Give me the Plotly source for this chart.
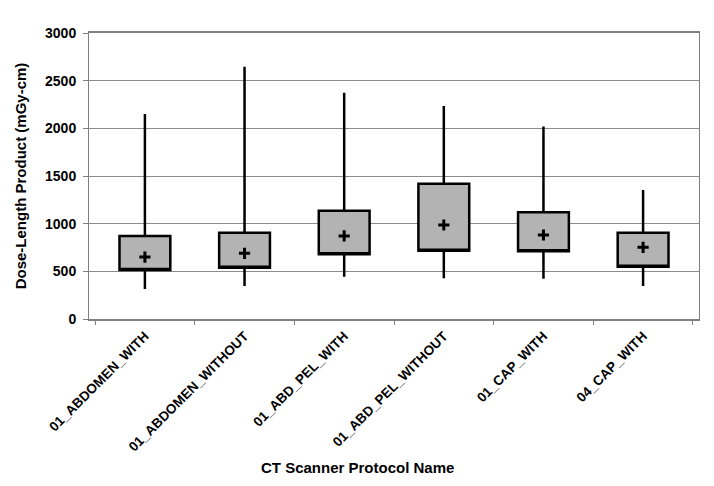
import plotly.graph_objects as go

protocols = ["01_ABDOMEN_WITH", "01_ABDOMEN_WITHOUT", "01_ABD_PEL_WITH",
             "01_ABD_PEL_WITHOUT", "01_CAP_WITH", "04_CAP_WITH"]
dlp_min = [315, 346, 444, 427, 423, 346]
dlp_q1 = [514, 538, 678, 717, 710, 549]
dlp_mean = [650, 689, 871, 986, 881, 752]
dlp_q3 = [870, 905, 1136, 1420, 1119, 905]
dlp_max = [2150, 2647, 2374, 2235, 2018, 1353]

y_ticks = [0, 500, 1000, 1500, 2000, 2500, 3000]

fig = go.Figure()
fig.add_trace(go.Box(
    x=protocols,
    q1=dlp_q1,
    median=dlp_q1,
    q3=dlp_q3,
    lowerfence=dlp_min,
    upperfence=dlp_max,
    width=0.51,
    whiskerwidth=0,
    fillcolor="#b3b3b3",
    line=dict(color="black", width=2.5),
    boxpoints=False,
    hoverinfo="skip",
    showlegend=False,
))
fig.add_trace(go.Scatter(
    x=protocols,
    y=dlp_mean,
    mode="markers",
    marker=dict(symbol="cross-thin", size=8, color="black",
                line=dict(color="black", width=3)),
    showlegend=False,
    hoverinfo="skip",
))

axis_gray = "#808080"
# page has an 8px body margin, so the figure is 8px smaller and shifted
fig.update_layout(
    width=706, height=478,
    margin=dict(l=81, r=15, t=25, b=167, autoexpand=False),
    plot_bgcolor="white", paper_bgcolor="white",
    font=dict(family="Liberation Sans, Arial, sans-serif", color="black"),
    xaxis=dict(
        type="category",
        showline=True, linecolor=axis_gray, linewidth=2, mirror=True,
        ticks="outside", tickson="boundaries", ticklen=4, tickcolor=axis_gray,
        tickangle=-45, showgrid=False,
        tickfont=dict(size=13.5, weight="bold"),
        ticklabelstandoff=2,
        automargin=False,
    ),
    yaxis=dict(
        range=[0, 3000], tickvals=y_ticks,
        showline=True, linecolor=axis_gray, linewidth=1, mirror=True,
        ticks="outside", ticklen=5, tickcolor=axis_gray,
        showgrid=True, gridcolor="#8c8c8c", gridwidth=1, zeroline=False,
        tickfont=dict(size=14, weight="bold"),
        ticklabelstandoff=4,
        title=dict(text="Dose-Length Product (mGy-cm)",
                   font=dict(size=15, weight="bold"), standoff=14),
        automargin=False,
    ),
    annotations=[dict(
        text="CT Scanner Protocol Name", xref="paper", yref="paper",
        x=(349 - 81) / 610, y=-(459 - 311) / 286,
        xanchor="center", yanchor="middle", showarrow=False,
        font=dict(size=15, weight="bold"),
    )],
)

fig.write_html("out.html")
